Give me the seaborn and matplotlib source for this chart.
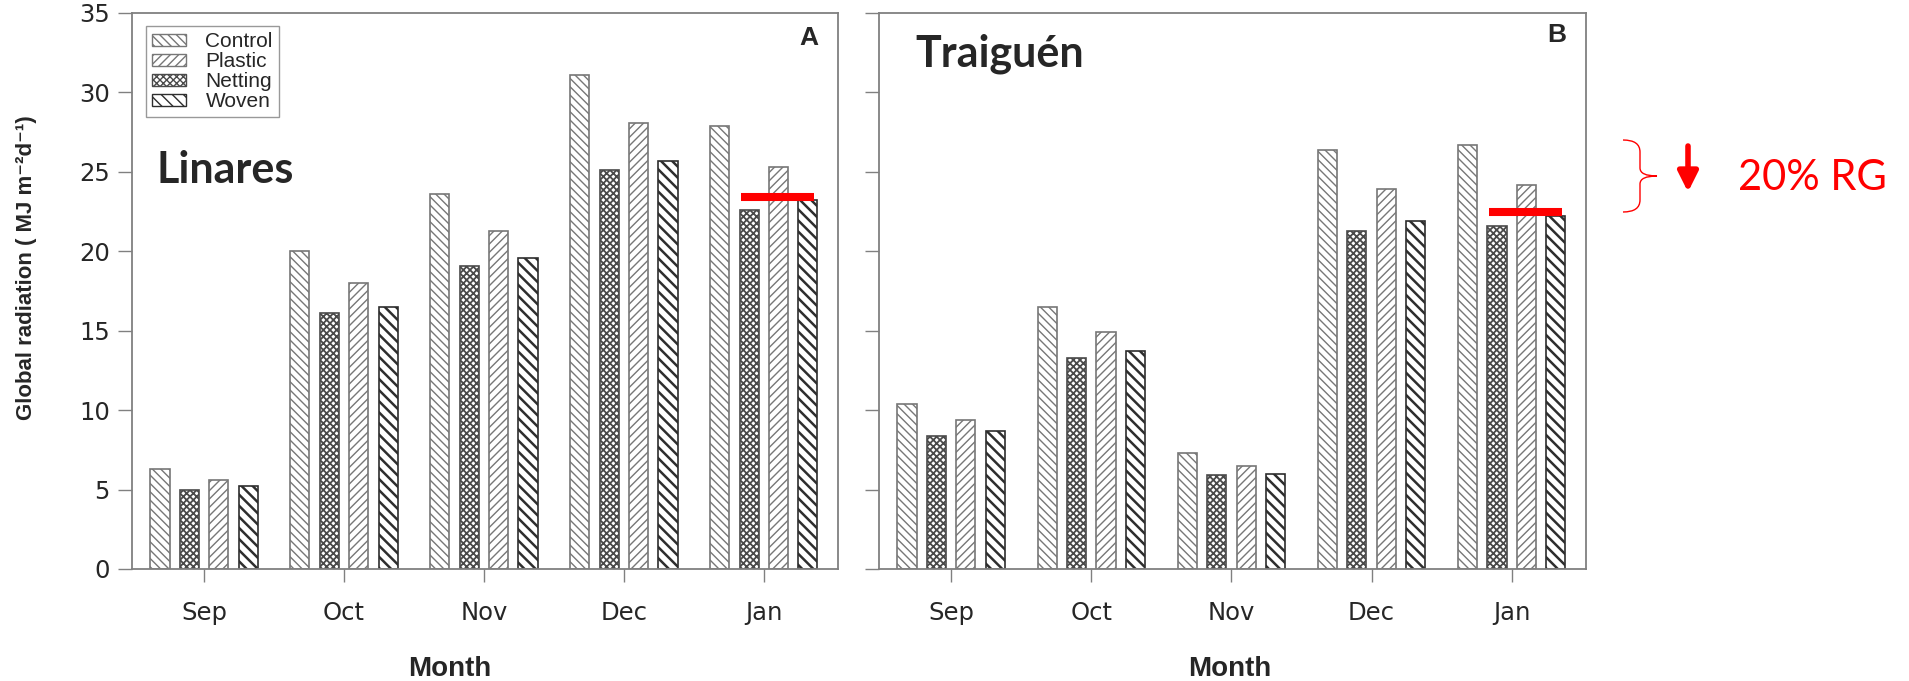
import numpy as np
import pandas as pd
import matplotlib
matplotlib.use("Agg")
import matplotlib.pyplot as plt
import seaborn as sns
from matplotlib.patches import Patch, PathPatch
from matplotlib.path import Path

# ---------------- data ----------------
months = ["Sep", "Oct", "Nov", "Dec", "Jan"]
treatments = ["Control", "Netting", "Plastic", "Woven"]      # bar order within group
legend_order = ["Control", "Plastic", "Netting", "Woven"]

linares_control = [6.3, 20.0, 23.6, 31.1, 27.9]
linares_netting = [5.0, 16.1, 19.1, 25.1, 22.6]
linares_plastic = [5.6, 18.0, 21.3, 28.1, 25.3]
linares_woven = [5.2, 16.5, 19.6, 25.7, 23.2]

traiguen_control = [10.4, 16.5, 7.3, 26.4, 26.7]
traiguen_netting = [8.4, 13.3, 5.9, 21.3, 21.6]
traiguen_plastic = [9.4, 14.9, 6.5, 23.9, 24.2]
traiguen_woven = [8.7, 13.7, 6.0, 21.9, 22.2]

red_level_A = 23.4
red_level_B = 22.5
red_span = (3.84, 4.36)

y_ticks = [0, 5, 10, 15, 20, 25, 30, 35]


def make_df(c, n, p, w):
    rows = []
    for t, vals in zip(treatments, [c, n, p, w]):
        for m, v in zip(months, vals):
            rows.append({"Month": m, "Treatment": t, "value": v})
    return pd.DataFrame(rows)


df_A = make_df(linares_control, linares_netting, linares_plastic, linares_woven)
df_B = make_df(traiguen_control, traiguen_netting, traiguen_plastic, traiguen_woven)

# ---------------- style ----------------
sns.set_theme(style="white")
plt.rcParams["font.family"] = ["DejaVu Sans"]

styles = {
    "Control": dict(hatch="\\\\\\\\", color="#777777", hlw=1.0),
    "Netting": dict(hatch="xxxxx", color="#4a4a4a", hlw=1.3),
    "Plastic": dict(hatch="////", color="#777777", hlw=1.0),
    "Woven": dict(hatch="\\\\\\", color="#2e2e2e", hlw=1.8),
}

W, H = 1909, 681
fig = plt.figure(figsize=(W / 100, H / 100), dpi=100)


def fx(px):
    return px / W


def fy(py):
    return 1 - py / H


axA = fig.add_axes([fx(132), fy(569), fx(838) - fx(132), fy(13) - fy(569)])
axB = fig.add_axes([fx(879), fy(569), fx(1586) - fx(879), fy(13) - fy(569)])

spine_col = "#808080"

for ax, df in [(axA, df_A), (axB, df_B)]:
    sns.barplot(data=df, x="Month", y="value", hue="Treatment",
                order=months, hue_order=treatments,
                palette=["white"] * 4, width=0.84, gap=0.35,
                dodge=True, legend=False, ax=ax, errorbar=None)
    for cont, t in zip(ax.containers, treatments):
        st = styles[t]
        for bar in cont:
            bar.set_facecolor("white")
            bar.set_edgecolor(st["color"])
            bar.set_hatch(st["hatch"])
            bar.set_linewidth(1.2)
            if hasattr(bar, "set_hatch_linewidth"):
                bar.set_hatch_linewidth(st["hlw"])
    ax.set_xlim(-0.515, 4.53)
    ax.set_ylim(0, 35)
    ax.set_yticks(y_ticks)
    ax.set_xlabel("")
    ax.set_ylabel("")
    for s in ax.spines.values():
        s.set_visible(True)
        s.set_color(spine_col)
        s.set_linewidth(1.3)
    ax.tick_params(axis="y", direction="out", length=10, width=1.0,
                   color=spine_col, labelsize=17.5, pad=6, left=True)
    ax.tick_params(axis="x", direction="out", length=9, width=1.0,
                   color=spine_col, labelsize=17.5, pad=14, bottom=True)

axB.tick_params(axis="y", labelleft=False)

# red reference lines
axA.hlines(red_level_A, red_span[0], red_span[1], color="#ff0000", lw=5.8, zorder=5)
axB.hlines(red_level_B, red_span[0], red_span[1], color="#ff0000", lw=5.8, zorder=5)

# legend
handles = [Patch(facecolor="white", edgecolor=styles[t]["color"],
                 hatch=styles[t]["hatch"], linewidth=1.0, label=t)
           for t in legend_order]
leg = axA.legend(handles=handles, loc="upper left",
                 bbox_to_anchor=(0.02, 0.977), borderaxespad=0,
                 prop={"family": "Liberation Sans", "size": 15},
                 handlelength=1.6, handleheight=0.5, handletextpad=0.95,
                 labelspacing=0.05, borderpad=0.3,
                 frameon=True, fancybox=False, edgecolor=spine_col)
leg.get_frame().set_linewidth(1.0)

# panel letters
axA.text(0.972, 0.955, "A", transform=axA.transAxes, ha="right", va="center",
         fontsize=19, fontweight="bold", family="Liberation Sans")
axB.text(0.972, 0.96, "B", transform=axB.transAxes, ha="right", va="center",
         fontsize=19, fontweight="bold", family="Liberation Sans")

# site names
fig.text(fx(156), fy(183), "Linares", fontsize=31, fontweight="bold",
         family="Lato", ha="left", va="baseline")
fig.text(fx(915), fy(67), "Traiguén", fontsize=31, fontweight="bold",
         family="Lato", ha="left", va="baseline")

# axis titles
fig.text(fx(450), fy(676), "Month", fontsize=20, fontweight="bold",
         family="Liberation Sans", ha="center", va="baseline")
fig.text(fx(1230), fy(676), "Month", fontsize=20, fontweight="bold",
         family="Liberation Sans", ha="center", va="baseline")
fig.text(fx(27), fy(268), "Global radiation ( MJ m\u207b\u00b2d\u207b\u00b9)",
         fontsize=16, fontweight="bold", family=["Liberation Sans", "DejaVu Sans"],
         rotation=90, ha="center", va="center")

# annotation: brace, arrow, text
def P(x, y):
    return (fx(x), fy(y))

verts = [P(1623, 140), P(1640, 140), P(1640, 152),
         P(1640, 168),
         P(1640, 176), P(1657, 176),
         P(1640, 176), P(1640, 184),
         P(1640, 200),
         P(1640, 212), P(1623, 212)]
codes = [Path.MOVETO, Path.CURVE3, Path.CURVE3,
         Path.LINETO,
         Path.CURVE3, Path.CURVE3,
         Path.CURVE3, Path.CURVE3,
         Path.LINETO,
         Path.CURVE3, Path.CURVE3]
brace = PathPatch(Path(verts, codes), transform=fig.transFigure,
                  facecolor="none", edgecolor="#ff0000", lw=1.0)
fig.add_artist(brace)

fig.add_artist(matplotlib.patches.FancyArrowPatch(
    P(1688, 146), P(1688, 192), transform=fig.transFigure,
    arrowstyle="-|>,head_length=12,head_width=6", mutation_scale=1,
    color="#ff0000", lw=4.0, shrinkA=0, shrinkB=0))

fig.text(fx(1738), fy(190), "20% RG", fontsize=30, color="#ff0000",
         family="Lato", ha="left", va="baseline")

fig.savefig("out.png", dpi=100, facecolor="white")
